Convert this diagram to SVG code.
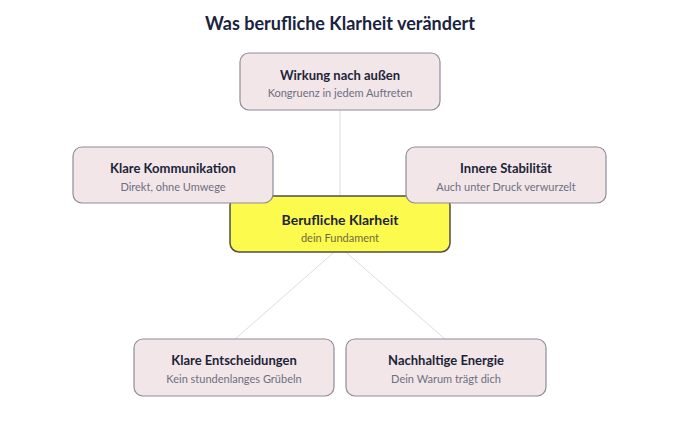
<svg xmlns="http://www.w3.org/2000/svg" width="680" height="430" viewBox="0 0 680 430">
<style>
.bg{fill:#ffffff}
.node rect{fill:#f3e6e8;stroke:#8f8c9a;stroke-width:1.2}
.center rect{fill:#fdfa4e;stroke:#4f4f45;stroke-width:1.5}
.t{font-family:Lato,"Noto Sans","Liberation Sans",sans-serif;font-weight:700;font-size:13px;fill:#1c2538;text-anchor:middle}
.s{font-family:Lato,"Noto Sans","Liberation Sans",sans-serif;font-size:11px;fill:#6b7083;text-anchor:middle}
.center .t{font-size:14px}
.center .s{fill:#6e6a40}
.title{font-family:Lato,"Noto Sans","Liberation Sans",sans-serif;font-weight:700;font-size:18px;fill:#1a2340;text-anchor:middle}
.conn line{stroke:#dcdce2;stroke-width:1}
.conn .v{stroke:#ececf1;stroke-width:2}
</style>
<rect class="bg" x="0" y="0" width="680" height="430"/>
<text class="title" x="340" y="30">Was berufliche Klarheit verändert</text>
<g id="connectors" class="conn">
<line class="v" x1="340" y1="110" x2="340" y2="224"/>
<line x1="340" y1="247" x2="234" y2="340"/>
<line x1="340" y1="247" x2="446" y2="340"/>
</g>
<g id="n-center" class="center">
<rect x="230" y="196" width="220" height="56" rx="9"/>
<text class="t" x="340" y="225">Berufliche Klarheit</text>
<text class="s" x="340" y="242">dein Fundament</text>
</g>
<g id="n-top" class="node">
<rect x="240" y="53" width="200" height="57" rx="9"/>
<text class="t" x="340" y="80">Wirkung nach außen</text>
<text class="s" x="340" y="97">Kongruenz in jedem Auftreten</text>
</g>
<g id="n-left" class="node">
<rect x="73" y="147" width="200" height="56" rx="9"/>
<text class="t" x="173" y="173">Klare Kommunikation</text>
<text class="s" x="173" y="191">Direkt, ohne Umwege</text>
</g>
<g id="n-right" class="node">
<rect x="406" y="147" width="200" height="56" rx="9"/>
<text class="t" x="506" y="173">Innere Stabilität</text>
<text class="s" x="506" y="191">Auch unter Druck verwurzelt</text>
</g>
<g id="n-bl" class="node">
<rect x="134" y="339" width="200" height="57" rx="9"/>
<text class="t" x="234" y="365">Klare Entscheidungen</text>
<text class="s" x="234" y="383">Kein stundenlanges Grübeln</text>
</g>
<g id="n-br" class="node">
<rect x="346" y="339" width="200" height="57" rx="9"/>
<text class="t" x="446" y="365">Nachhaltige Energie</text>
<text class="s" x="446" y="383">Dein Warum trägt dich</text>
</g>
</svg>
